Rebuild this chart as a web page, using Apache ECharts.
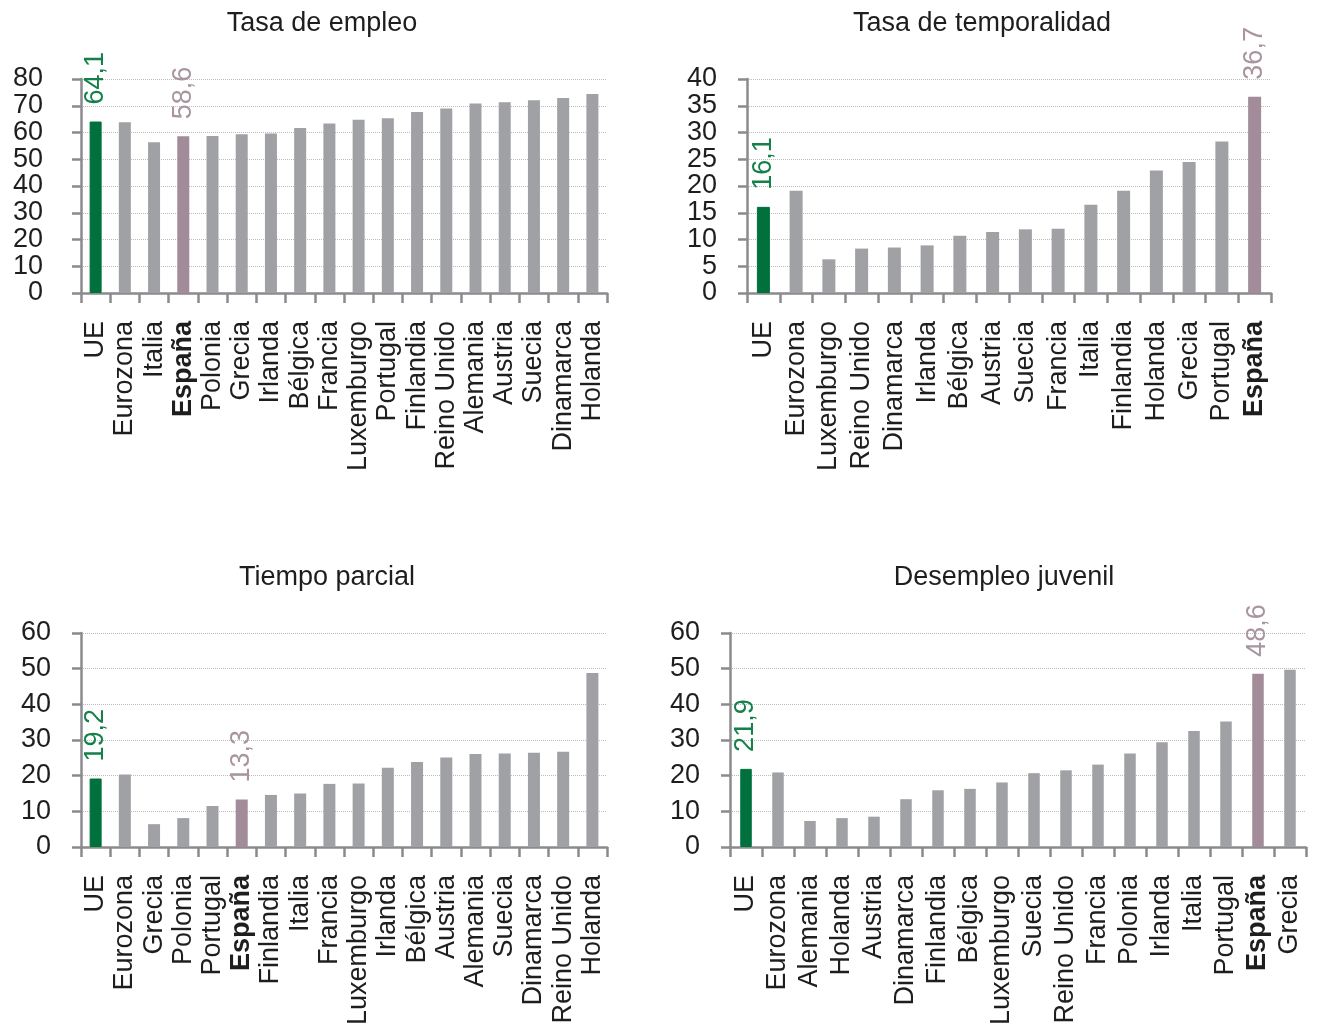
<!DOCTYPE html>
<html>
<head>
<meta charset="utf-8">
<script src="https://cdn.jsdelivr.net/npm/echarts@6/dist/echarts.min.js"></script>
<style>
  html, body { margin: 0; padding: 0; background: #ffffff; }
  #chart { width: 1317px; height: 1030px; }
</style>
</head>
<body>
<div id="chart"></div>
<script>
// Tasa de empleo
const empleoCats = ['UE','Eurozona','Italia','España','Polonia','Grecia','Irlanda','Bélgica','Francia','Luxemburgo','Portugal','Finlandia','Reino Unido','Alemania','Austria','Suecia','Dinamarca','Holanda'];
const empleoVals = [64.1,63.8,56.4,58.6,58.7,59.3,59.6,61.7,63.4,64.8,65.3,67.7,69.0,70.8,71.3,72.1,72.9,74.4];
const empleoTicks = [0,10,20,30,40,50,60,70,80];

// Tasa de temporalidad
const tempCats = ['UE','Eurozona','Luxemburgo','Reino Unido','Dinamarca','Irlanda','Bélgica','Austria','Suecia','Francia','Italia','Finlandia','Holanda','Grecia','Portugal','España'];
const tempVals = [16.1,19.1,6.3,8.3,8.5,8.9,10.7,11.4,11.9,12.0,16.5,19.1,22.9,24.5,28.3,36.7];
const tempTicks = [0,5,10,15,20,25,30,35,40];

// Tiempo parcial
const parcialCats = ['UE','Eurozona','Grecia','Polonia','Portugal','España','Finlandia','Italia','Francia','Luxemburgo','Irlanda','Bélgica','Austria','Alemania','Suecia','Dinamarca','Reino Unido','Holanda'];
const parcialVals = [19.2,20.3,6.4,8.1,11.5,13.3,14.6,15.0,17.7,17.8,22.2,23.8,25.1,26.1,26.2,26.4,26.7,48.8];
const parcialTicks = [0,10,20,30,40,50,60];

// Desempleo juvenil
const juvenilCats = ['UE','Eurozona','Alemania','Holanda','Austria','Dinamarca','Finlandia','Bélgica','Luxemburgo','Suecia','Reino Unido','Francia','Polonia','Irlanda','Italia','Portugal','España','Grecia'];
const juvenilVals = [21.9,20.9,7.3,8.1,8.5,13.4,15.9,16.3,18.1,20.7,21.5,23.1,26.2,29.4,32.5,35.2,48.6,49.7];
const juvenilTicks = [0,10,20,30,40,50,60];

const titles = ['Tasa de empleo', 'Tasa de temporalidad', 'Tiempo parcial', 'Desempleo juvenil'];

const FONT = "'Liberation Sans', Arial, sans-serif";
const TEXT = '#1e1e1e';
const AXIS = '#8b8b8e';
const GREY = '#a0a1a5';
const GREEN = '#00703c';
const MAUVE = '#a38c99';
const GREEN_LABEL = '#15804a';
const MAUVE_LABEL = '#a8959f';

const panels = [
  { cats: empleoCats, vals: empleoVals, ticks: empleoTicks, grid: { left: 81, top: 79, width: 526, height: 214 }, yMargin: 38, barW: 12, title: { x: 322, y: 10 } },
  { cats: tempCats, vals: tempVals, ticks: tempTicks, grid: { left: 747, top: 79, width: 524, height: 214 }, yMargin: 30, barW: 13, title: { x: 982, y: 10 } },
  { cats: parcialCats, vals: parcialVals, ticks: parcialTicks, grid: { left: 81, top: 633, width: 526, height: 214 }, yMargin: 30, barW: 12, title: { x: 327, y: 564 } },
  { cats: juvenilCats, vals: juvenilVals, ticks: juvenilTicks, grid: { left: 730, top: 633, width: 576, height: 214 }, yMargin: 30, barW: 11.5, title: { x: 1004, y: 564 } }
];

function fmt(v) { return v.toFixed(1).replace('.', ','); }

function barData(cats, vals) {
  return vals.map((v, i) => {
    const c = cats[i];
    if (c === 'UE' || c === 'España') {
      const col = c === 'UE' ? GREEN : MAUVE;
      const lab = c === 'UE' ? GREEN_LABEL : MAUVE_LABEL;
      return {
        value: v,
        itemStyle: { color: col, borderColor: col, borderWidth: c === 'UE' ? 1 : 3 },
        label: {
          show: true, position: 'top', rotate: 90, align: 'left', verticalAlign: 'middle',
          distance: 17, fontSize: 27, fontFamily: FONT, color: lab,
          formatter: p => fmt(p.value)
        }
      };
    }
    return { value: v, itemStyle: { color: GREY } };
  });
}

const titleGraphics = panels.map((p, i) => ({
  type: 'text', id: 'title' + i, x: p.title.x, y: p.title.y,
  style: { text: titles[i], textAlign: 'center', fill: TEXT, font: `27px ${FONT}` }
}));

const option = {
  animation: false,
  backgroundColor: '#ffffff',
  graphic: titleGraphics,
  grid: panels.map(p => Object.assign({ containLabel: false }, p.grid)),
  xAxis: panels.map((p, i) => ({
    type: 'category', gridIndex: i, data: p.cats, boundaryGap: true,
    axisLine: { show: true, lineStyle: { color: AXIS, width: 2.5 } },
    axisTick: { show: true, length: 10, lineStyle: { color: AXIS, width: 2.5 } },
    axisLabel: {
      interval: 0, rotate: 90, margin: 28, fontSize: 27, fontFamily: FONT, color: TEXT,
      formatter: v => (v === 'España' ? '{b|España}' : v),
      rich: { b: { fontWeight: 'bold', fontSize: 27, fontFamily: FONT, color: TEXT } }
    },
    splitLine: { show: false }
  })),
  yAxis: panels.map((p, i) => ({
    type: 'value', gridIndex: i,
    min: p.ticks[0], max: p.ticks[p.ticks.length - 1], interval: p.ticks[1] - p.ticks[0],
    axisLine: { show: true, lineStyle: { color: AXIS, width: 2.5 } },
    axisTick: { show: true, length: 9, lineStyle: { color: AXIS, width: 2.5 } },
    // tick numbers are tightly packed, so they are placed as text below
    axisLabel: { show: false },
    splitLine: { show: true, lineStyle: { type: 'dotted', color: '#bcbcbc', width: 1 } }
  })),
  series: panels.map((p, i) => ({
    type: 'bar', xAxisIndex: i, yAxisIndex: i, barWidth: p.barW,
    data: barData(p.cats, p.vals), z: 3
  }))
};

const chart = echarts.init(document.getElementById('chart'), null, { renderer: 'canvas' });
chart.setOption(option);

// Y tick numbers, positioned through each value axis
const tickGraphics = [];
panels.forEach((p, i) => {
  p.ticks.forEach(t => {
    const y = chart.convertToPixel({ yAxisIndex: i }, t);
    tickGraphics.push({
      type: 'text', id: `tick${i}_${t}`, x: p.grid.left - p.yMargin, y: y,
      style: { text: String(t), textAlign: 'right', textVerticalAlign: 'middle', fill: TEXT, font: `27px ${FONT}` }
    });
  });
});
chart.setOption({ graphic: titleGraphics.concat(tickGraphics) });
</script>
</body>
</html>
